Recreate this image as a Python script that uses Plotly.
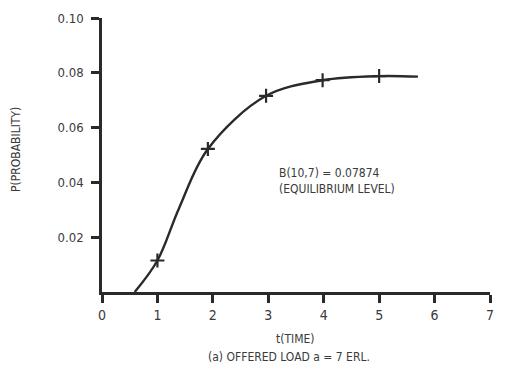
import plotly.graph_objects as go

# Curve (t, probability)
curve_t = [0.59, 1.00, 1.39, 1.91, 2.96, 3.98, 5.00, 5.70]
curve_p = [0.0, 0.0115, 0.0306, 0.0522, 0.0716, 0.0773, 0.0788, 0.0786]

# Marked points (crosses)
mark_t = [1.0, 1.91, 2.96, 3.98, 5.0]
mark_p = [0.0115, 0.0522, 0.0716, 0.0773, 0.0788]

x_ticks = [0, 1, 2, 3, 4, 5, 6, 7]
x_tick_labels = ["0", "1", "2", "3", "4", "5", "6", "7"]
y_ticks = [0.02, 0.04, 0.06, 0.08, 0.10]
y_tick_labels = ["0.02", "0.04", "0.06", "0.08", "0.10"]

FONT = "DejaVu Sans Condensed, Liberation Sans Narrow, sans-serif"
INK = "#2a2a2a"
TXT = "#3a3a3a"

fig = go.Figure()
fig.add_trace(go.Scatter(
    x=curve_t, y=curve_p, mode="lines",
    line=dict(color=INK, width=2.4, shape="spline", smoothing=1.0),
    showlegend=False, hoverinfo="skip"))
fig.add_trace(go.Scatter(
    x=mark_t, y=mark_p, mode="markers",
    marker=dict(symbol="cross-thin", size=10, line=dict(color=INK, width=2.2)),
    showlegend=False))

fig.update_layout(
    width=505, height=370,
    margin=dict(l=102, r=11, t=14, b=78),
    plot_bgcolor="white", paper_bgcolor="white",
    font=dict(family=FONT, color=TXT, size=13),
    xaxis=dict(range=[0, 7], tickvals=x_ticks, ticktext=x_tick_labels,
               showgrid=False, zeroline=False, showline=True, linecolor=INK,
               linewidth=2.5, ticks="outside", ticklen=8, tickwidth=2.5,
               tickcolor=INK, tickfont=dict(size=14, family=FONT, color=TXT)),
    yaxis=dict(range=[0, 0.10], tickvals=y_ticks, ticktext=y_tick_labels,
               showgrid=False, zeroline=False, showline=True, linecolor=INK,
               linewidth=2.5, ticks="outside", ticklen=8, tickwidth=2.5,
               tickcolor=INK, ticklabelstandoff=5,
               tickfont=dict(size=13, family=FONT, color=TXT)),
    annotations=[
        dict(text="P(PROBABILITY)", xref="paper", yref="paper",
             x=(15 - 102) / 392, y=(292 - 147) / 278, textangle=-90,
             xanchor="center", yanchor="middle", showarrow=False,
             font=dict(size=12, family=FONT, color=TXT)),
        dict(text="t(TIME)", xref="paper", yref="paper",
             x=(297 - 102) / 392, y=(292 - 340) / 278,
             xanchor="center", yanchor="middle", showarrow=False,
             font=dict(size=12, family=FONT, color=TXT)),
        dict(text="(a) OFFERED LOAD a = 7 ERL.", xref="paper", yref="paper",
             x=(291 - 102) / 392, y=(292 - 358) / 278,
             xanchor="center", yanchor="middle", showarrow=False,
             font=dict(size=12, family=FONT, color=TXT)),
        dict(text="B(10,7) = 0.07874<br>(EQUILIBRIUM LEVEL)", xref="x", yref="y",
             x=3.16, y=0.0406, xanchor="left", yanchor="middle", align="left",
             showarrow=False, font=dict(size=12, family=FONT, color=TXT)),
    ],
)

fig.write_html("out.html")
